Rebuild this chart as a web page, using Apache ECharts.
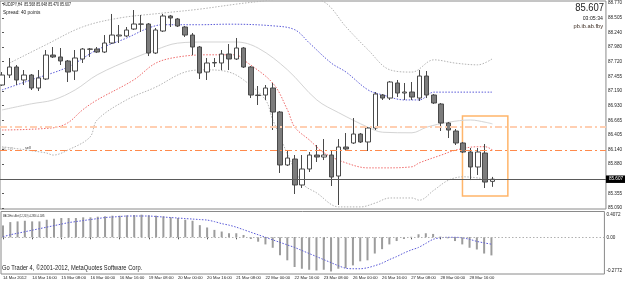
<!DOCTYPE html>
<html>
<head>
<meta charset="utf-8">
<title>AUDJPY H4</title>
<script src="https://cdn.jsdelivr.net/npm/echarts@6.0.0/dist/echarts.min.js"></script>
<style>
  html, body { margin: 0; padding: 0; background: #fff; }
  #chart { width: 625px; height: 282px; }
</style>
</head>
<body>
<div id="chart"></div>
<script>
// bar labels on the time axis, one every 4 H4 bars
const timeLabels = ['14 Mar 2012', '14 Mar 16:00', '15 Mar 08:00', '16 Mar 00:00', '16 Mar 16:00',
  '19 Mar 08:00', '20 Mar 00:00', '20 Mar 16:00', '21 Mar 08:00', '22 Mar 00:00', '22 Mar 16:00',
  '23 Mar 08:00', '26 Mar 00:00', '26 Mar 16:00', '27 Mar 08:00', '28 Mar 00:00', '28 Mar 16:00'];

const priceTicks = [88.770, 88.505, 88.240, 87.980, 87.720, 87.455, 87.190, 86.930,
  86.665, 86.405, 86.140, 85.880, 85.355, 85.090];

const macdTickValues = [0.36, 0, -0.53];
const macdTickLabels = ['0.4072', '0.00', '-0.2772'];

// open, close, low, high
const candles = [
  [87.298, 87.477, 87.280, 87.531], [87.477, 87.621, 87.424, 87.783], [87.621, 87.388, 87.298, 87.657],
  [87.388, 87.477, 87.298, 87.567], [87.477, 87.244, 87.208, 87.495], [87.244, 87.424, 87.190, 87.567],
  [87.406, 87.836, 87.388, 87.926], [87.836, 87.801, 87.783, 87.980], [87.801, 87.729, 87.657, 87.962],
  [87.729, 87.531, 87.352, 87.747], [87.549, 87.783, 87.388, 87.926], [87.765, 87.944, 87.693, 87.962],
  [87.944, 87.940, 87.801, 87.962], [87.944, 87.890, 87.872, 87.980], [87.890, 88.052, 87.872, 88.195],
  [88.052, 88.195, 88.034, 88.573], [88.178, 88.195, 88.052, 88.375], [88.178, 88.285, 88.160, 88.339],
  [88.303, 88.393, 88.285, 88.644], [88.393, 88.390, 88.249, 88.555], [88.393, 87.872, 87.818, 88.411],
  [87.872, 88.285, 87.854, 88.321], [88.267, 88.537, 88.249, 88.573], [88.537, 88.501, 88.339, 88.555],
  [88.483, 88.357, 88.339, 88.501], [88.339, 88.195, 88.160, 88.357], [88.195, 87.980, 87.836, 88.231],
  [87.980, 87.513, 87.406, 87.998], [87.531, 87.693, 87.388, 87.783], [87.693, 87.702, 87.621, 87.783],
  [87.693, 87.854, 87.567, 87.926], [87.854, 87.765, 87.567, 88.034], [87.765, 87.962, 87.747, 88.142],
  [87.962, 87.621, 87.603, 87.980], [87.621, 87.118, 87.064, 87.639], [87.118, 87.109, 86.939, 87.280],
  [87.118, 87.244, 87.029, 87.298], [87.244, 86.813, 86.490, 87.334], [86.813, 85.862, 85.718, 86.831],
  [85.862, 85.987, 85.844, 86.131], [85.969, 85.503, 85.341, 86.041], [85.503, 85.790, 85.449, 86.041],
  [85.790, 86.041, 85.736, 86.095], [86.041, 86.005, 85.916, 86.221], [86.005, 86.041, 85.951, 86.328],
  [86.041, 85.646, 85.485, 86.131], [85.664, 86.185, 85.144, 86.328], [86.185, 86.149, 86.131, 86.436],
  [86.257, 86.418, 86.239, 86.705], [86.418, 86.275, 86.257, 86.436], [86.275, 86.526, 86.113, 86.544],
  [86.526, 87.136, 86.490, 87.172], [87.118, 87.064, 87.029, 87.136], [87.064, 87.352, 87.029, 87.370],
  [87.334, 87.154, 87.082, 87.388], [87.154, 87.172, 87.029, 87.334], [87.172, 87.082, 87.029, 87.352],
  [87.064, 87.459, 87.011, 87.567], [87.459, 87.118, 87.064, 87.549], [87.118, 86.975, 86.957, 87.136],
  [86.957, 86.616, 86.472, 86.975], [86.616, 86.490, 86.346, 86.634], [86.472, 86.257, 86.221, 86.508],
  [86.257, 86.095, 86.077, 86.275], [86.095, 85.826, 85.592, 86.167], [85.826, 86.095, 85.682, 86.167],
  [86.077, 85.556, 85.449, 86.239], [85.568, 85.607, 85.470, 85.648]
];

// indicator lines: [bar, price]
const upperBand = [[1, 87.69], [6, 88.02], [11, 88.34], [16, 88.50], [22, 88.59], [27, 88.66], [32, 88.75],
  [37, 88.83], [40, 88.90], [44, 88.79], [47, 88.34], [50, 87.93], [53, 87.57], [56, 87.53], [59, 87.75],
  [62, 87.69], [65, 87.66], [67, 87.77]];
const blueLine = [[0, 87.21], [4, 87.39], [9, 87.62], [13, 87.93], [17, 88.14], [20, 88.32], [22, 88.38],
  [27, 88.38], [31, 88.39], [37, 88.36], [40, 88.29], [42, 88.05], [45, 87.69], [47, 87.53], [50, 87.21],
  [52, 87.12], [55, 87.03], [57, 87.03], [59, 87.17], [67, 87.17]];
const middleLine = [[0, 86.85], [4, 86.96], [7, 87.03], [10, 87.21], [13, 87.48], [18, 87.78], [21, 87.93],
  [24, 88.05], [28, 88.07], [32, 88.07], [35, 87.96], [39, 87.57], [43, 87.03], [46, 86.80], [50, 86.54],
  [52, 86.45], [56, 86.44], [58, 86.54], [61, 86.63], [64, 86.67], [66, 86.63], [67, 86.60]];
const redLine = [[0, 86.49], [7, 86.53], [9, 86.62], [11, 86.85], [13, 87.03], [18, 87.39], [21, 87.69],
  [24, 87.80], [28, 87.84], [32, 87.84], [33, 87.75], [37, 87.33], [39, 86.85], [40, 86.54], [42, 86.31],
  [44, 86.08], [47, 85.90], [50, 85.81], [52, 85.81], [56, 85.83], [57, 85.90], [60, 86.04], [62, 86.13],
  [65, 86.19], [66, 86.19], [67, 86.13]];
const lowerBand = [[0, 86.19], [6, 86.08], [7, 86.04], [9, 86.13], [12, 86.36], [13, 86.67], [17, 87.03],
  [21, 87.26], [25, 87.53], [28, 87.57], [31, 87.53], [33, 87.39], [36, 87.03], [37, 86.67], [41, 85.54],
  [43, 85.36], [46, 85.11], [49, 85.11], [51, 85.18], [53, 85.27], [56, 85.27], [57, 85.23], [59, 85.41],
  [61, 85.59], [63, 85.65], [65, 85.63], [67, 85.59]];

const macdHist = [0.187, 0.240, 0.251, 0.261, 0.251, 0.251, 0.277, 0.293, 0.304, 0.304,
  0.304, 0.315, 0.315, 0.325, 0.331, 0.341, 0.341, 0.347, 0.352, 0.357,
  0.347, 0.341, 0.331, 0.315, 0.304, 0.277, 0.261, 0.192, 0.155, 0.117,
  0.091, 0.064, 0.064, 0.037, -0.027, -0.069, -0.112, -0.165, -0.283, -0.363,
  -0.469, -0.496, -0.512, -0.523, -0.512, -0.539, -0.496, -0.485, -0.443, -0.379,
  -0.363, -0.256, -0.187, -0.112, -0.059, -0.027, 0.008, 0.048, 0.064, 0.053,
  0.011, -0.016, -0.059, -0.112, -0.165, -0.192, -0.256, -0.2856];
const macdSignal = [0.008, 0.04, 0.064, 0.088, 0.112, 0.136, 0.16, 0.184, 0.208, 0.232,
  0.248, 0.264, 0.28, 0.296, 0.312, 0.32, 0.328, 0.336, 0.336, 0.336,
  0.336, 0.328, 0.32, 0.312, 0.304, 0.296, 0.288, 0.28, 0.272, 0.248,
  0.216, 0.192, 0.16, 0.12, 0.08, 0.04, 0, -0.04, -0.08, -0.12,
  -0.16, -0.208, -0.256, -0.304, -0.352, -0.4, -0.448, -0.488, -0.496, -0.496,
  -0.48, -0.448, -0.408, -0.352, -0.304, -0.248, -0.2, -0.16, -0.096, -0.032,
  -0.008, 0, 0, -0.008, -0.032, -0.064, -0.088, -0.1085];

const lastPrice = 85.607;
const sellLevel = 86.131;
const upperLevel = 86.544;
const boxCorners = [[62.9, 86.741], [69.1, 85.305]];

const FONT = 'Liberation Sans';
const chart = echarts.init(document.getElementById('chart'), null, { renderer: 'canvas' });

const xBase = {
  type: 'value',
  min: -0.272,
  max: 82.5,
  splitLine: { show: false },
  axisLine: { show: false },
  axisTick: { show: false },
  axisLabel: { show: false },
};

const bandLine = (name, data, color, type) => ({
  name,
  type: 'line',
  data,
  xAxisIndex: 0,
  yAxisIndex: 0,
  smooth: 0.35,
  symbol: 'none',
  silent: true,
  z: 1,
  lineStyle: { color, width: 1, type },
});

const smallText = (text, x, y, size, opts = {}) => ({
  type: 'text',
  x,
  y,
  scaleX: opts.scaleX || 1,
  silent: true,
  style: {
    text,
    fill: opts.fill || '#222',
    font: `${size}px "${FONT}"`,
    align: opts.align || 'left',
    verticalAlign: 'middle',
  },
});

const option = {
  animation: false,
  backgroundColor: '#fff',
  grid: [
    { left: 0, top: 1, width: 607.5, height: 208, show: true, borderColor: '#8a8a8a', borderWidth: 1 },
    { left: 0, top: 211.5, width: 607.5, height: 62.5, show: true, borderColor: '#8a8a8a', borderWidth: 1 },
  ],
  xAxis: [
    { ...xBase, gridIndex: 0 },
    {
      ...xBase,
      gridIndex: 1,
      axisTick: {
        show: true,
        length: 2,
        customValues: timeLabels.map((t, k) => k * 4),
        lineStyle: { color: '#555' },
      },
      axisLabel: {
        show: true,
        customValues: timeLabels.map((t, k) => k * 4),
        formatter: (v) => timeLabels[Math.round(v / 4)],
        align: 'left',
        margin: 1.5,
        fontSize: 4.2,
        fontFamily: FONT,
        color: '#222',
      },
    },
  ],
  yAxis: [
    {
      type: 'value',
      gridIndex: 0,
      position: 'right',
      min: 85.072,
      max: 88.806,
      splitLine: { show: false },
      axisLine: { show: false },
      axisTick: { show: true, length: 2, customValues: priceTicks, lineStyle: { color: '#555' } },
      axisLabel: {
        customValues: priceTicks,
        formatter: (v) => v.toFixed(3),
        margin: 2,
        fontSize: 4.6,
        fontFamily: FONT,
        color: '#222',
      },
    },
    {
      type: 'value',
      gridIndex: 1,
      position: 'right',
      min: -0.579,
      max: 0.4072,
      splitLine: { show: false },
      axisLine: { show: false },
      axisTick: { show: false },
      axisLabel: {
        customValues: macdTickValues,
        formatter: (v) => macdTickLabels[macdTickValues.indexOf(v)],
        margin: 2,
        fontSize: 4.6,
        fontFamily: FONT,
        color: '#222',
      },
    },
  ],
  series: [
    bandLine('upper', upperBand, '#b4b4b4', [1.5, 1.5]),
    bandLine('blue', blueLine, '#5a5ad8', [1.5, 1.5]),
    bandLine('middle', middleLine, '#d4d4d4', 'solid'),
    bandLine('red', redLine, '#f06a6a', [1.5, 1.5]),
    bandLine('lower', lowerBand, '#b4b4b4', [1.5, 1.5]),
    {
      name: 'AUDJPY',
      type: 'candlestick',
      xAxisIndex: 0,
      yAxisIndex: 0,
      data: candles.map((c, i) => [i, c[0], c[1], c[2], c[3]]),
      encode: { x: 0, y: [1, 2, 3, 4] },
      barWidth: 5,
      z: 3,
      itemStyle: {
        color: '#ffffff',
        color0: '#7c7c7c',
        borderColor: '#4a4a4a',
        borderColor0: '#4a4a4a',
        borderWidth: 1,
      },
      markLine: {
        silent: true,
        symbol: 'none',
        precision: 3,
        data: [
          { yAxis: upperLevel, lineStyle: { color: '#ffcfb2', width: 2, type: [7, 3, 2, 3] }, label: { show: false } },
          { yAxis: sellLevel, lineStyle: { color: '#ff8a4c', width: 1, type: [7, 3, 2, 3] }, label: { show: false } },
          {
            yAxis: lastPrice,
            lineStyle: { color: '#5a5a5a', width: 1, type: 'solid' },
            label: {
              show: true,
              position: 'end',
              distance: 0,
              formatter: lastPrice.toFixed(3),
              backgroundColor: '#000',
              color: '#fff',
              fontSize: 4.6,
              fontFamily: FONT,
              padding: [1.5, 3, 1, 3],
            },
          },
        ],
      },
      markArea: {
        silent: true,
        itemStyle: { color: 'rgba(0,0,0,0)', borderColor: '#ffb56a', borderWidth: 1.5 },
        data: [[{ coord: boxCorners[0] }, { coord: boxCorners[1] }]],
      },
    },
    {
      name: 'MACD',
      type: 'bar',
      xAxisIndex: 1,
      yAxisIndex: 1,
      data: macdHist.map((v, i) => [i, v]),
      barWidth: 2,
      itemStyle: { color: '#9c9c9c' },
      markLine: {
        silent: true,
        symbol: 'none',
        label: { show: false },
        lineStyle: { color: '#b0b0b0', width: 1, type: [1.5, 2] },
        data: [{ yAxis: 0 }],
      },
    },
    {
      name: 'Signal',
      type: 'line',
      xAxisIndex: 1,
      yAxisIndex: 1,
      data: macdSignal.map((v, i) => [i, v]),
      symbol: 'none',
      smooth: 0.3,
      lineStyle: { color: '#5a5ad8', width: 1, type: [1.5, 1.5] },
    },
  ],
  graphic: [
    smallText('AUDJPY,H4  85.568 85.648 85.470 85.607', 3, 4.5, 4.6, { scaleX: 0.78 }),
    smallText('Spread: 40 points', 3, 12, 5.8, { scaleX: 0.82 }),
    smallText('85.607', 604, 7.5, 11.5, { align: 'right', scaleX: 0.82 }),
    smallText('03:05:34', 603, 18, 6, { align: 'right', scaleX: 0.87 }),
    smallText('pb.ib.ab.fby', 603, 26, 6, { align: 'right', scaleX: 0.95, fill: '#3a2a20' }),
    smallText('86.131', 2, 148.5, 4.4, { fill: '#a8a8a8', scaleX: 0.85 }),
    smallText('sell', 25, 147.5, 4.4, { fill: '#333', scaleX: 0.85 }),
    smallText('MACDHist_Alert (12,26,9) -0.2856 -0.1085', 3, 215.5, 4, { scaleX: 0.55 }),
    smallText('Go Trader 4, \u00a92001-2012, MetaQuotes Software Corp.', 2, 268.5, 6.4, { scaleX: 0.9 }),
  ],
};

chart.setOption(option);
</script>
</body>
</html>
